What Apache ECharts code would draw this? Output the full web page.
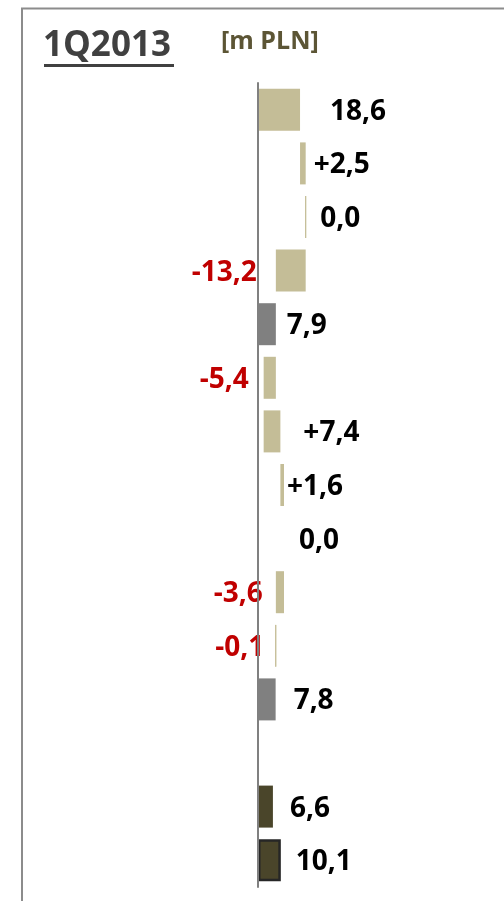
<!DOCTYPE html>
<html>
<head>
<meta charset="utf-8">
<title>1Q2013</title>
<script src="https://cdn.jsdelivr.net/npm/echarts@6/dist/echarts.min.js"></script>
<style>
  html, body { margin: 0; padding: 0; background: #fff; }
  #chart { width: 504px; height: 901px; }
</style>
</head>
<body>
<div id="chart"></div>
<script>
// waterfall rows, top to bottom
var categories = ['r1', 'r2', 'r3', 'r4', 'r5', 'r6', 'r7', 'r8', 'r9', 'r10', 'r11', 'r12', 'r13', 'r14', 'r15'];
var values = [18.6, 2.5, 0.0, -13.2, 7.9, -5.4, 7.4, 1.6, 0.0, -3.6, -0.1, 7.8, null, 6.6, 10.1];
// start = running total restarts from zero, step = change, sub = subtotal, end = standalone bar
var kinds = ['start', 'step', 'step', 'step', 'sub', 'step', 'step', 'step', 'step', 'step', 'step', 'sub', null, 'end', 'final'];

// label gaps as placed by hand in the original
var labelGap = [30, 8, 14, 19, 11, 15, 23, 3, 15, 13, 11, 18, 0, 17, 15];
// rows whose tiny bar still shows as a hairline
var hairline = [2, 10];

var KHAKI = '#C4BD97';
var GREY = '#808080';
var DARK = '#4A452A';

var baseData = [];
var barData = [];
var running = 0;

for (var i = 0; i < values.length; i++) {
  var v = values[i];
  var k = kinds[i];
  if (v === null) {
    baseData.push(null);
    barData.push(null);
    continue;
  }
  var base, color = KHAKI;
  if (k === 'start') {
    base = 0;
    running = v;
  } else if (k === 'step') {
    base = v >= 0 ? running : running + v;
    running = running + v;
  } else {
    base = 0;
    color = k === 'sub' ? GREY : DARK;
  }
  var neg = v < 0;
  var item = {
    value: Math.abs(v),
    itemStyle: { color: color },
    label: {
      show: true,
      position: neg ? 'left' : 'right',
      distance: labelGap[i],
      color: neg ? '#C00000' : '#000000'
    }
  };
  if (hairline.indexOf(i) >= 0) {
    item.itemStyle.borderColor = KHAKI;
    item.itemStyle.borderWidth = 1;
  }
  if (k === 'final') {
    item.itemStyle.borderColor = '#262626';
    item.itemStyle.borderWidth = 2.5;
  }
  baseData.push(base);
  barData.push(item);
}

function fmt(idx) {
  var v = values[idx];
  var s = Math.abs(v).toFixed(1).replace('.', ',');
  if (v < 0) return '-' + s;
  if (kinds[idx] === 'step' && v > 0) return '+' + s;
  return s;
}

var chart = echarts.init(document.getElementById('chart'), null, { renderer: 'canvas' });

var option = {
  animation: false,
  backgroundColor: '#ffffff',
  textStyle: { fontFamily: '"Open Sans", "Liberation Sans", sans-serif' },
  grid: {
    left: 258,
    right: 20,
    top: 83,
    bottom: 14
  },
  xAxis: {
    type: 'value',
    min: 0,
    max: 100,
    show: false
  },
  yAxis: {
    type: 'category',
    data: categories,
    inverse: true,
    z: 10,
    axisLine: { lineStyle: { color: GREY, width: 2 } },
    axisTick: { show: false },
    axisLabel: { show: false },
    splitLine: { show: false }
  },
  graphic: [
    {
      type: 'rect',
      shape: { x: 22, y: 8.5, width: 600, height: 1000 },
      style: { fill: 'none', stroke: '#8C8C8C', lineWidth: 2 },
      silent: true
    },
    {
      type: 'text',
      left: 43,
      top: 29,
      style: {
        text: '1Q2013',
        font: 'bold 35px "Open Sans", sans-serif',
        fill: '#404040'
      }
    },
    {
      type: 'rect',
      shape: { x: 44, y: 64, width: 130, height: 3 },
      style: { fill: '#404040' }
    },
    {
      type: 'text',
      left: 221,
      top: 29,
      style: {
        text: '[m PLN]',
        font: 'bold 25px "Open Sans", sans-serif',
        fill: '#5C5535'
      }
    }
  ],
  series: [
    {
      name: 'base',
      type: 'bar',
      stack: 'wf',
      barWidth: 42,
      silent: true,
      itemStyle: { color: 'transparent' },
      data: baseData
    },
    {
      name: 'value',
      type: 'bar',
      stack: 'wf',
      barWidth: 42,
      label: {
        show: true,
        fontSize: 28,
        fontWeight: 'bold',
        offset: [0, 2],
        formatter: function (p) { return fmt(p.dataIndex); }
      },
      data: barData
    }
  ]
};

chart.setOption(option);
</script>
</body>
</html>
